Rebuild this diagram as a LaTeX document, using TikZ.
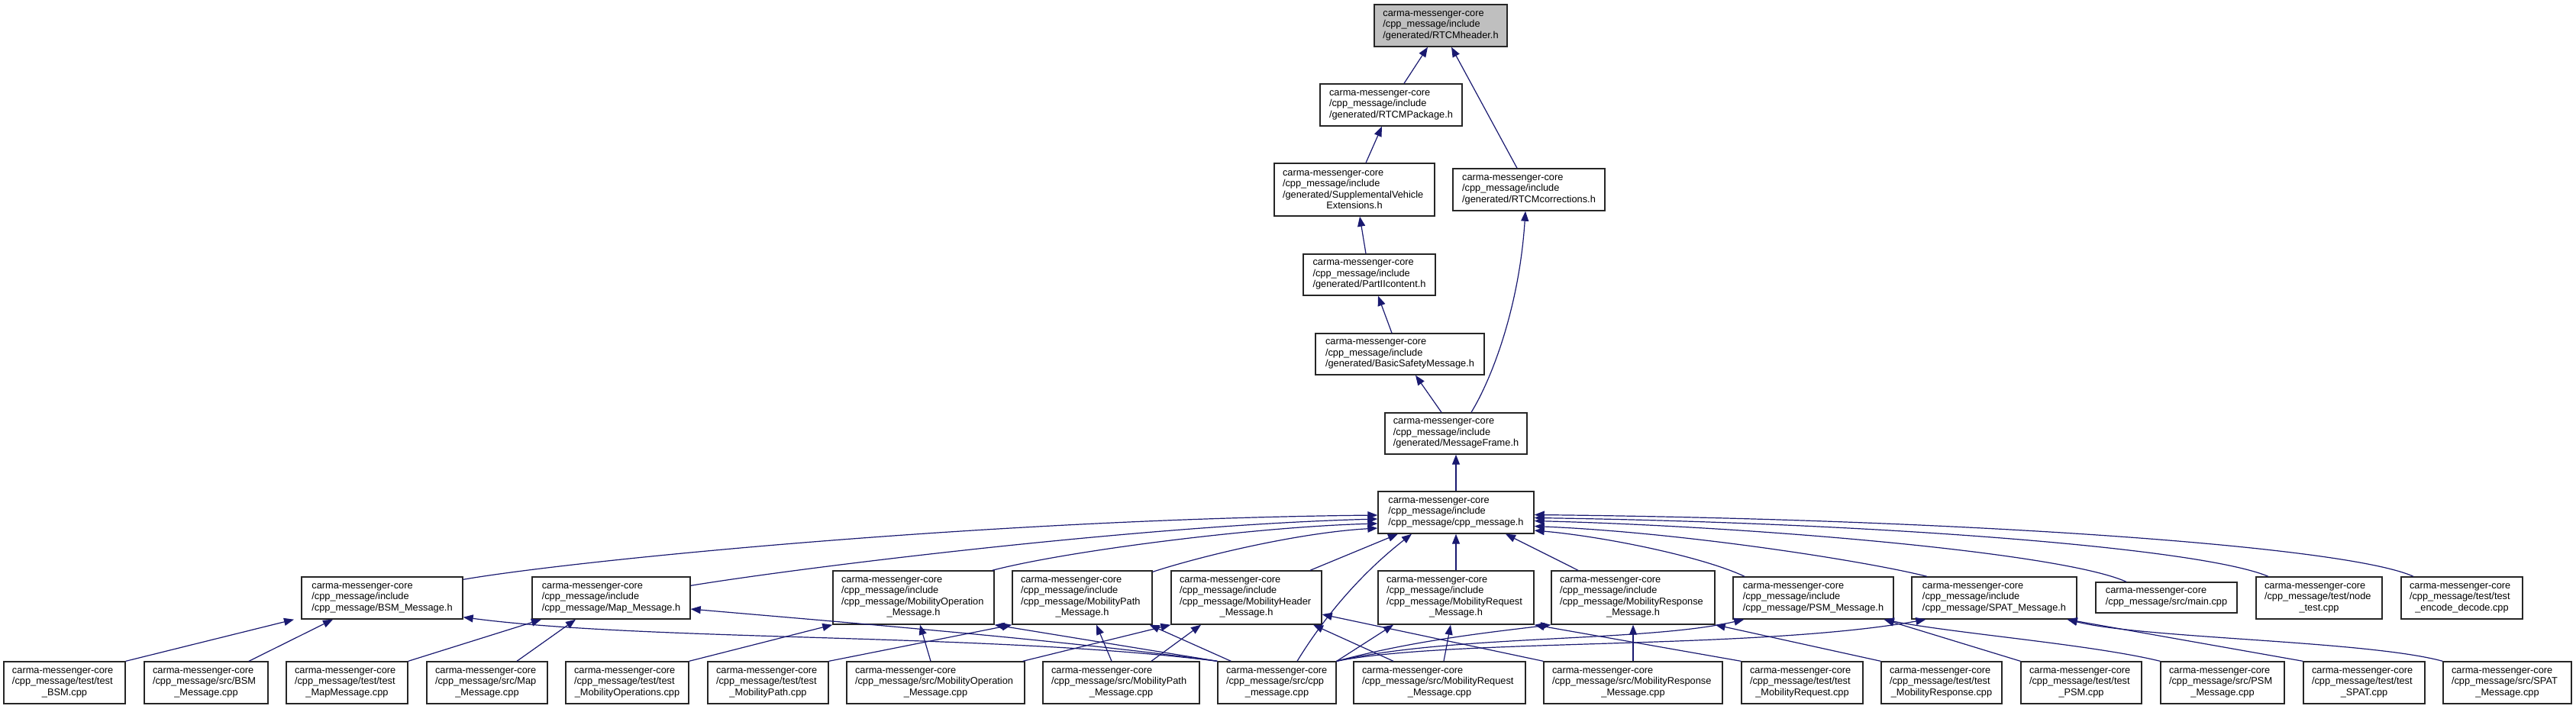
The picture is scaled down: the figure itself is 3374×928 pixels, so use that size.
\documentclass[tikz,border=0pt]{standalone}
\usepackage{fontspec}
\setmainfont{Liberation Sans}
\usetikzlibrary{arrows.meta}
\definecolor{edgecol}{RGB}{25,25,112}
\definecolor{hdrfill}{RGB}{191,191,191}
\newcommand{\Lcmc}{carma-messenger-core}
\newcommand{\Linc}{/cpp\_message/include}
\newcommand{\ctrline}[1]{\makebox[\mkbT pt][c]{#1}}
\newcommand{\mkbox}[7][]{%
 \pgfmathsetmacro\mkbW{(#5-#3)*0.5}%
 \pgfmathsetmacro\mkbH{(#6-#4)*0.5}%
 \pgfmathsetmacro\mkbT{(#5-#3-22)*0.5}%
 \pgfmathsetmacro\mkbX{(#3+#5)/2}%
 \pgfmathsetmacro\mkbY{(#4+#6)/2}%
 \node[nbox,#1,minimum width=\mkbW pt,minimum height=\mkbH pt] (#2) at (\mkbX,\mkbY) {#7};}
\tikzset{
 nbox/.style={draw=black!85, line width=0.7pt, fill=white, inner sep=0pt, align=left,
   font=\fontsize{6.4}{7.25}\selectfont},
 edge/.style={draw=edgecol, line width=0.6pt, -{Triangle[length=6.5pt,width=5pt]}}
}
\begin{document}
\begin{tikzpicture}[x=0.5pt,y=-0.5pt]
\useasboundingbox (0,0) rectangle (3374,928);
% upper chain
\mkbox[fill=hdrfill]{hdr}{1800}{6}{1974}{61}{\Lcmc\\\Linc\\/generated/RTCMheader.h}
\mkbox{pkg}{1729}{110}{1915}{165}{\Lcmc\\\Linc\\/generated/RTCMPackage.h}
\mkbox{sup}{1669}{214}{1879}{283}{\Lcmc\\\Linc\\/generated/SupplementalVehicle\\\ctrline{Extensions.h}}
\mkbox{cor}{1903}{221}{2102}{276}{\Lcmc\\\Linc\\/generated/RTCMcorrections.h}
\mkbox{ptwo}{1707}{333}{1880}{387}{\Lcmc\\\Linc\\/generated/PartIIcontent.h}
\mkbox{bsmsg}{1723}{437}{1944}{491}{\Lcmc\\\Linc\\/generated/BasicSafetyMessage.h}
\mkbox{mf}{1814}{541}{2000}{595}{\Lcmc\\\Linc\\/generated/MessageFrame.h}
\mkbox{cpph}{1805}{644}{2009}{699}{\Lcmc\\\Linc\\/cpp\_message/cpp\_message.h}
% second row
\mkbox{bsm}{395}{756}{606}{811}{\Lcmc\\\Linc\\/cpp\_message/BSM\_Message.h}
\mkbox{map}{697}{756}{904}{811}{\Lcmc\\\Linc\\/cpp\_message/Map\_Message.h}
\mkbox{mop}{1091}{748}{1302}{818}{\Lcmc\\\Linc\\/cpp\_message/MobilityOperation\\\ctrline{\_Message.h}}
\mkbox{mpa}{1326}{748}{1509}{818}{\Lcmc\\\Linc\\/cpp\_message/MobilityPath\\\ctrline{\_Message.h}}
\mkbox{mhd}{1534}{748}{1731}{818}{\Lcmc\\\Linc\\/cpp\_message/MobilityHeader\\\ctrline{\_Message.h}}
\mkbox{mrq}{1805}{748}{2009}{818}{\Lcmc\\\Linc\\/cpp\_message/MobilityRequest\\\ctrline{\_Message.h}}
\mkbox{mrs}{2032}{748}{2246}{818}{\Lcmc\\\Linc\\/cpp\_message/MobilityResponse\\\ctrline{\_Message.h}}
\mkbox{psm}{2270}{756}{2480}{811}{\Lcmc\\\Linc\\/cpp\_message/PSM\_Message.h}
\mkbox{spat}{2504}{756}{2720}{811}{\Lcmc\\\Linc\\/cpp\_message/SPAT\_Message.h}
\mkbox{mainc}{2745}{763}{2930}{803}{\Lcmc\\/cpp\_message/src/main.cpp}
\mkbox{nodet}{2955}{756}{3120}{811}{\Lcmc\\/cpp\_message/test/node\\\ctrline{\_test.cpp}}
\mkbox{enc}{3145}{756}{3304}{811}{\Lcmc\\/cpp\_message/test/test\\\ctrline{\_encode\_decode.cpp}}
% third row
\mkbox{tbsm}{5}{867}{164}{922}{\Lcmc\\/cpp\_message/test/test\\\ctrline{\_BSM.cpp}}
\mkbox{sbsm}{189}{867}{351}{922}{\Lcmc\\/cpp\_message/src/BSM\\\ctrline{\_Message.cpp}}
\mkbox{tmap}{375}{867}{534}{922}{\Lcmc\\/cpp\_message/test/test\\\ctrline{\_MapMessage.cpp}}
\mkbox{smap}{559}{867}{717}{922}{\Lcmc\\/cpp\_message/src/Map\\\ctrline{\_Message.cpp}}
\mkbox{tmop}{741}{867}{902}{922}{\Lcmc\\/cpp\_message/test/test\\\ctrline{\_MobilityOperations.cpp}}
\mkbox{tmpa}{927}{867}{1085}{922}{\Lcmc\\/cpp\_message/test/test\\\ctrline{\_MobilityPath.cpp}}
\mkbox{smop}{1109}{867}{1342}{922}{\Lcmc\\/cpp\_message/src/MobilityOperation\\\ctrline{\_Message.cpp}}
\mkbox{smpa}{1366}{867}{1571}{922}{\Lcmc\\/cpp\_message/src/MobilityPath\\\ctrline{\_Message.cpp}}
\mkbox{scpp}{1595}{867}{1750}{922}{\Lcmc\\/cpp\_message/src/cpp\\\ctrline{\_message.cpp}}
\mkbox{smrq}{1773}{867}{1998}{922}{\Lcmc\\/cpp\_message/src/MobilityRequest\\\ctrline{\_Message.cpp}}
\mkbox{smrs}{2022}{867}{2256}{922}{\Lcmc\\/cpp\_message/src/MobilityResponse\\\ctrline{\_Message.cpp}}
\mkbox{tmrq}{2281}{867}{2440}{922}{\Lcmc\\/cpp\_message/test/test\\\ctrline{\_MobilityRequest.cpp}}
\mkbox{tmrs}{2464}{867}{2622}{922}{\Lcmc\\/cpp\_message/test/test\\\ctrline{\_MobilityResponse.cpp}}
\mkbox{tpsm}{2647}{867}{2805}{922}{\Lcmc\\/cpp\_message/test/test\\\ctrline{\_PSM.cpp}}
\mkbox{spsm}{2830}{867}{2992}{922}{\Lcmc\\/cpp\_message/src/PSM\\\ctrline{\_Message.cpp}}
\mkbox{tspat}{3017}{867}{3176}{922}{\Lcmc\\/cpp\_message/test/test\\\ctrline{\_SPAT.cpp}}
\mkbox{sspat}{3200}{867}{3368}{922}{\Lcmc\\/cpp\_message/src/SPAT\\\ctrline{\_Message.cpp}}
% upper edges
\draw[edge] ([shift={(17,0)}]pkg.north) -- ([shift={(-17,0)}]hdr.south);
\draw[edge] ([shift={(-15.5,0)}]cor.north) -- ([shift={(14,0)}]hdr.south);
\draw[edge] ([shift={(15,0)}]sup.north) -- ([shift={(-12,0)}]pkg.south);
\draw[edge] ([shift={(-4.5,0)}]ptwo.north) -- ([shift={(7,0)}]sup.south);
\draw[edge] ([shift={(-10.5,0)}]bsmsg.north) -- ([shift={(11.5,0)}]ptwo.south);
\draw[edge] ([shift={(-19,0)}]mf.north) -- ([shift={(20.5,0)}]bsmsg.south);
\draw[edge] ([shift={(20,0)}]mf.north) .. controls +(28,-46) and +(-8,124) .. ([shift={(-4.5,0)}]cor.south);
\draw[edge] (cpph.north) -- (mf.south);
% second row to cpp_message.h
\draw[edge] ([shift={(0,4)}]bsm.north east) .. controls +(144,-25) and +(-505,5) .. ([shift={(0,3.5)}]cpph.west);
\draw[edge] ([shift={(0,12)}]map.north east) .. controls +(146,-24) and +(-305,8) .. ([shift={(0,8.5)}]cpph.west);
\draw[edge] ([shift={(-3,0)}]mop.north east) .. controls +(100,-26) and +(-155,4) .. ([shift={(0,14.5)}]cpph.west);
\draw[edge] ([shift={(0,2)}]mpa.north east) .. controls +(61,-20) and +(-105,6) .. ([shift={(0,20.5)}]cpph.west);
\draw[edge] ([shift={(83.5,0)}]mhd.north) -- ([shift={(-76,0)}]cpph.south);
\draw[edge] ([shift={(26.5,0)}]scpp.north) .. controls +(41,-67) and +(-59,46) .. ([shift={(-58,0)}]cpph.south);
\draw[edge] (mrq.north) -- (cpph.south);
\draw[edge] ([shift={(-72,0)}]mrs.north) -- ([shift={(65,0)}]cpph.south);
\draw[edge] ([shift={(-90,0)}]psm.north) .. controls +(-55,-26) and +(91,8) .. ([shift={(0,23.5)}]cpph.east);
\draw[edge] ([shift={(-88,0)}]spat.north) .. controls +(-84,-21) and +(191,8) .. ([shift={(0,18)}]cpph.east);
\draw[edge] ([shift={(-52.5,0)}]mainc.north) .. controls +(-85,-38) and +(291,7.5) .. ([shift={(0,11)}]cpph.east);
\draw[edge] ([shift={(-66.5,0)}]nodet.north) .. controls +(-91,-38) and +(441,6.5) .. ([shift={(0,7)}]cpph.east);
\draw[edge] ([shift={(-63.5,0)}]enc.north) .. controls +(-91,-41) and +(541,5.5) .. ([shift={(0,3)}]cpph.east);
% third row to second row
\draw[edge] (tbsm.north east) -- ([shift={(-115.5,0)}]bsm.south);
\draw[edge] ([shift={(56,0)}]sbsm.north) -- ([shift={(-64.5,0)}]bsm.south);
\draw[edge] (scpp.north west) .. controls +(-295,-37) and +(244,32) .. ([shift={(0,-3)}]bsm.south east);
\draw[edge] (tmap.north east) -- ([shift={(-91.5,0)}]map.south);
\draw[edge] ([shift={(39,0)}]smap.north) -- ([shift={(-46.5,0)}]map.south);
\draw[edge] (scpp.north west) .. controls +(-195,-27) and +(196,17) .. ([shift={(0,14.5)}]map.east);
\draw[edge] (tmop.north east) -- (mop.south west);
\draw[edge] ([shift={(-6.5,0)}]smop.north) -- ([shift={(8.5,0)}]mop.south);
\draw[edge] (scpp.north west) -- (mop.south east);
\draw[edge] (tmpa.north east) -- (mpa.south west);
\draw[edge] ([shift={(-12.5,0)}]smpa.north) -- ([shift={(18.5,0)}]mpa.south);
\draw[edge] ([shift={(18,0)}]scpp.north west) -- ([shift={(-4,0)}]mpa.south east);
\draw[edge] ([shift={(-3,0)}]smop.north east) -- (mhd.south west);
\draw[edge] ([shift={(39.5,0)}]smpa.north) -- ([shift={(-59.5,0)}]mhd.south);
\draw[edge] ([shift={(-60.5,0)}]smrq.north) -- ([shift={(87.5,0)}]mhd.south);
\draw[edge] (smrs.north west) -- ([shift={(0,22)}]mhd.east);
\draw[edge] (scpp.north east) -- ([shift={(-82,0)}]mrq.south);
\draw[edge] ([shift={(5.5,0)}]smrq.north) -- ([shift={(-7,0)}]mrq.south);
\draw[edge] (tmrq.north west) -- (mrq.south east);
\draw[edge] (scpp.north east) .. controls +(100,-27) and +(-82,10) .. (mrs.south west);
\draw[edge] (smrs.north) -- (mrs.south);
\draw[edge] (tmrs.north west) -- (mrs.south east);
\draw[edge] (scpp.north east) .. controls +(150,-35) and +(-130,30) .. ([shift={(15,0)}]psm.south west);
\draw[edge] (scpp.north east) .. controls +(150,-30) and +(-223,40) .. ([shift={(19,0)}]spat.south west);
\draw[edge] (tpsm.north west) -- ([shift={(-13,0)}]psm.south east);
\draw[edge] (spsm.north west) .. controls +(-90,-22) and +(90,18) .. ([shift={(-13,0)}]psm.south east);
\draw[edge] (tspat.north west) -- ([shift={(-13,0)}]spat.south east);
\draw[edge] (sspat.north west) .. controls +(-100,-27) and +(100,25) .. ([shift={(-13,0)}]spat.south east);
\end{tikzpicture}
\end{document}
